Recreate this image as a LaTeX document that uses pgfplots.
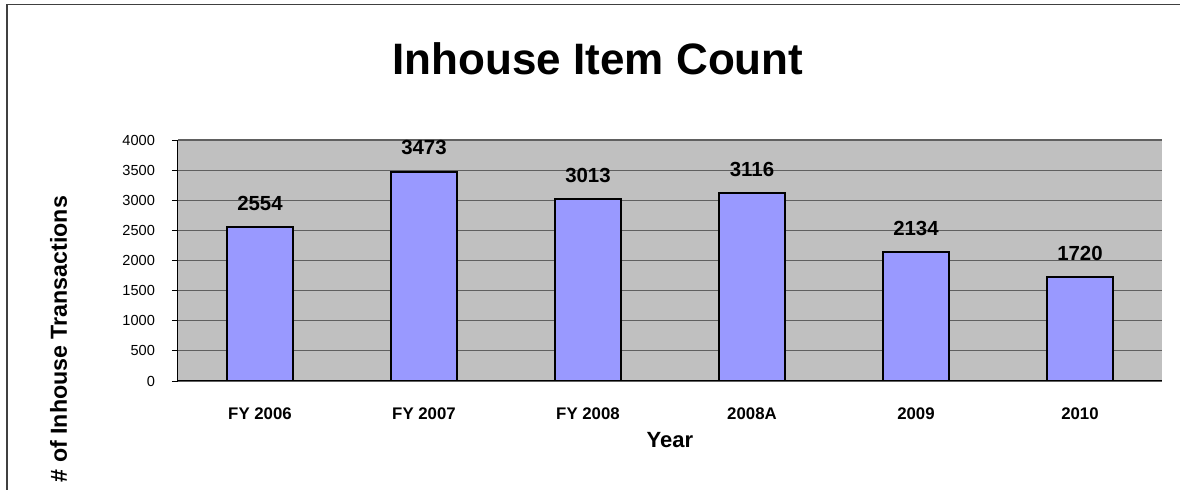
\documentclass[border=0pt]{standalone}
\usepackage{pgfplots}
\pgfplotsset{compat=1.18}
\usepackage{fontspec}
\setmainfont{Liberation Sans}

\definecolor{plotbg}{HTML}{C0C0C0}
\definecolor{barfill}{HTML}{9999FF}
\definecolor{gridc}{HTML}{606060}

\begin{document}
\begin{tikzpicture}
% page frame: 1 px of the reference = 0.5pt
\useasboundingbox (-89pt,-54.5pt) rectangle (501pt,190.5pt);
\fill[white] (-89pt,-54.5pt) rectangle (501pt,190.5pt);
\draw[line width=0.9pt, color=black!75] (-85.5pt,-60pt) -- (-85.5pt,188.25pt) -- (505pt,188.25pt);

\node[anchor=base, font=\bfseries\fontsize{22}{26}\selectfont] at (210pt,153pt) {Inhouse Item Count};
\node[rotate=90, anchor=base east, font=\bfseries\fontsize{11.6}{14}\selectfont] at (-55.5pt,96pt) {\# of Inhouse Transactions};

\begin{axis}[
    at={(0,0)}, anchor=south west,
    scale only axis,
    width=492pt, height=120.5pt,
    ybar, bar width=33pt,
    xmin=-0.5, xmax=5.5,
    ymin=0, ymax=4000,
    xtick={0,...,5},
    xticklabels={FY 2006, FY 2007, FY 2008, 2008A, 2009, 2010},
    minor xtick={-0.5,0.5,...,5.5},
    ytick={0,500,...,4000},
    axis x line*=bottom, axis y line*=left,
    tick align=outside,
    major tick length=3pt, minor tick length=2.5pt,
    xtick style={draw=none},
    minor x tick style={black, line width=0.4pt},
    ytick style={black, line width=0.4pt},
    axis line style={black, line width=0.5pt},
    ymajorgrids,
    major grid style={gridc, line width=0.55pt},
    axis background/.style={fill=plotbg},
    /pgf/number format/assume math mode=true,
    /pgf/number format/1000 sep={},
    yticklabel style={font=\fontsize{7.3}{8.5}\selectfont, xshift=-5pt},
    xticklabel style={font=\bfseries\fontsize{8.4}{10}\selectfont, yshift=-7pt},
    xlabel={Year},
    xlabel style={at={(axis description cs:0.5,0)}, anchor=base, yshift=-33.5pt,
        font=\bfseries\fontsize{11}{13}\selectfont},
    nodes near coords,
    every node near coord/.append style={anchor=base, yshift=8.5pt,
        font=\bfseries\fontsize{10.2}{12}\selectfont, black},
  ]
  \addplot[fill=barfill, draw=black, line width=1pt] coordinates {
    (0,2554) (1,3473) (2,3013) (3,3116) (4,2134) (5,1720)
  };
\end{axis}
\end{tikzpicture}
\end{document}
